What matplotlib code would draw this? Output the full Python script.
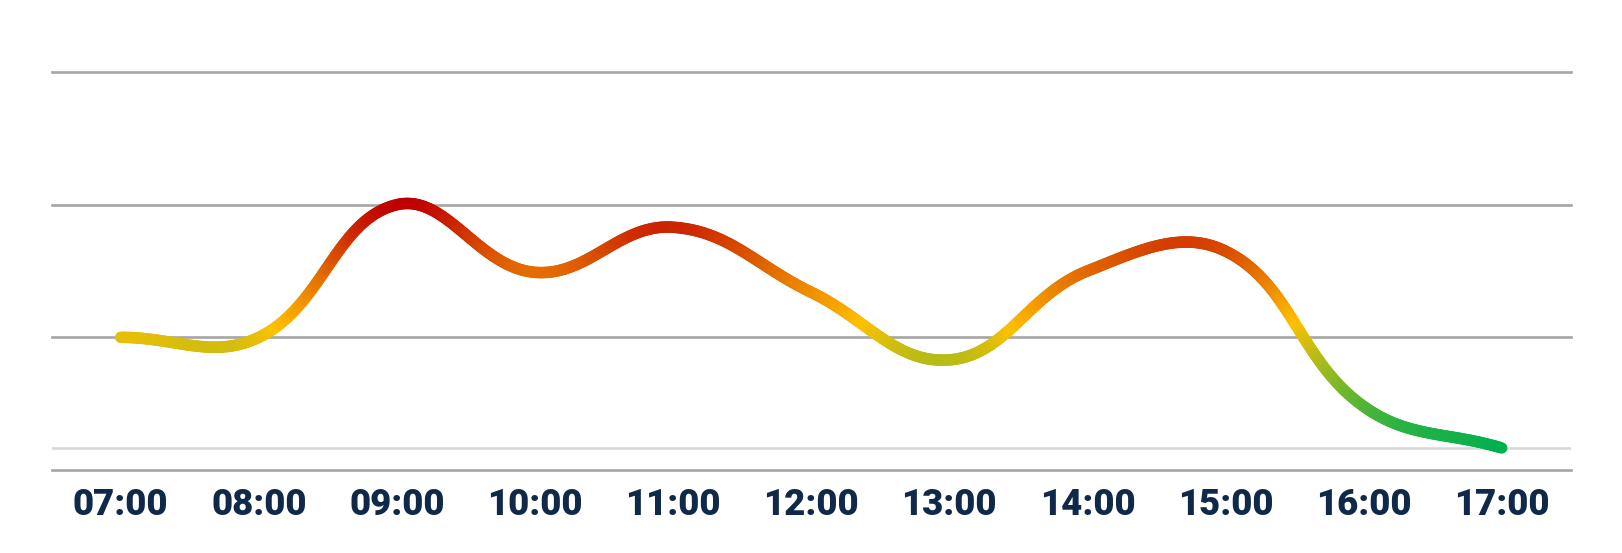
import numpy as np
import matplotlib
matplotlib.use('Agg')
import matplotlib.pyplot as plt
from matplotlib.collections import LineCollection
from matplotlib.colors import LinearSegmentedColormap, Normalize

hours = [7, 8, 9, 10, 11, 12, 13, 14, 15, 16, 17]
labels = ['07:00', '08:00', '09:00', '10:00', '11:00', '12:00',
          '13:00', '14:00', '15:00', '16:00', '17:00']
values = [1.0, 1.0, 2.0, 1.49, 1.83, 1.34, 0.83, 1.5, 1.65, 0.48, 0.166]
target = 0.166

tension = 0.4
# pixel scale so the curve bends like it does on screen
kx = 138.2
ky = 132.7


def spline(xs, ys, t, n=60):
    p = np.column_stack([np.array(xs) * kx, np.array(ys) * ky])
    m = len(p)
    cp_prev = np.zeros_like(p)
    cp_next = np.zeros_like(p)
    for i in range(m):
        prev = p[i - 1] if i > 0 else p[i]
        nxt = p[i + 1] if i < m - 1 else p[i]
        d01 = np.hypot(*(p[i] - prev))
        d12 = np.hypot(*(nxt - p[i]))
        s = d01 + d12
        s01 = d01 / s if s else 0
        s12 = d12 / s if s else 0
        cp_prev[i] = p[i] - t * s01 * (nxt - prev)
        cp_next[i] = p[i] + t * s12 * (nxt - prev)
    pts = []
    u = np.linspace(0, 1, n)[:, None]
    for i in range(m - 1):
        a, b, c, d = p[i], cp_next[i], cp_prev[i + 1], p[i + 1]
        seg = ((1 - u) ** 3) * a + 3 * ((1 - u) ** 2) * u * b + 3 * (1 - u) * u ** 2 * c + u ** 3 * d
        pts.append(seg if i == 0 else seg[1:])
    pts = np.vstack(pts)
    return pts[:, 0] / kx, pts[:, 1] / ky


cx, cy = spline(hours, values, tension)

fig = plt.figure(figsize=(16.22, 5.53), dpi=100)
ax = fig.add_axes([51.7 / 1622, 1 - 470 / 553, 1519 / 1622, 398 / 553])

ax.set_xlim(6.5, 17.5)
ax.set_ylim(0, 3)

for v in [0, 1, 2, 3]:
    ax.axhline(v, color='#a6a6a6', lw=1.9, zorder=1, clip_on=False)
ax.axhline(target, color='#d9d9d9', lw=1.9, zorder=1)

cmap = LinearSegmentedColormap.from_list('gyr', ['#00b050', '#ffc000', '#c00000'])
norm = Normalize(cy.min(), cy.max())
pts = np.column_stack([cx, cy]).reshape(-1, 1, 2)
segs = np.concatenate([pts[:-1], pts[1:]], axis=1)
mid = (cy[:-1] + cy[1:]) / 2
lc = LineCollection(segs, colors=cmap(norm(mid)), linewidths=8.3,
                    capstyle='round', joinstyle='round', zorder=3)
ax.add_collection(lc)

ax.set_xticks(hours)
ax.set_xticklabels(labels, fontfamily='Roboto', fontweight='heavy',
                   fontsize=26.3, color='#10294a')
ax.tick_params(axis='x', length=0, pad=12.5)
ax.set_yticks([])
for s in ax.spines.values():
    s.set_visible(False)

plt.savefig('out.png', dpi=100)
